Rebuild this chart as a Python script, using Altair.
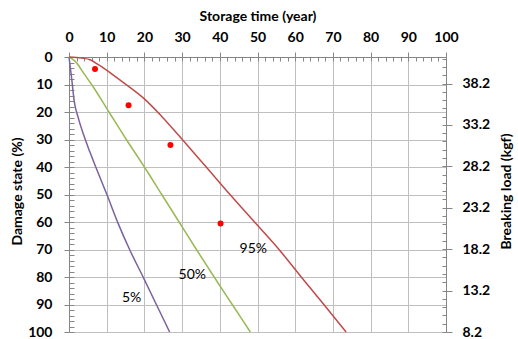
import altair as alt
import pandas as pd

# ---- data ----
years_5 = [0, 0.7, 1.4, 2.5, 3.9, 5.5, 7.1, 10.1, 13.0, 16.1, 19.8, 23.2, 26.7]
damage_5 = [0, 7.8, 16.2, 22.3, 28.4, 34.4, 40, 50.2, 60.4, 70.1, 80.4, 90.1, 100]

years_50 = [0, 1.6, 4.2, 6.0, 10.6, 15.2, 20.0, 24.6, 29.2, 33.8, 38.5, 43.3, 48.1]
damage_50 = [0, 1.5, 6.5, 10, 20, 30, 40, 50, 60, 70, 80, 90, 100]

years_95 = [0, 3.4, 5.6, 7.8, 11.3, 15.7, 20.2, 24.6, 30.0, 36.4, 42.7, 49.2, 55.7, 61.6, 67.6, 73.5]
damage_95 = [0, 0.4, 1.0, 2.8, 6.1, 10.6, 15.5, 21.6, 29.9, 40, 50, 60, 70, 80, 90, 100]

obs_years = [6.9, 15.8, 26.9, 40.2]
obs_damage = [4.4, 17.5, 32.0, 60.5]

label_text = ["5%", "50%", "95%"]
label_years = [16.6, 32.7, 48.9]
label_damage = [87.7, 79.3, 69.8]

series_names = ["5%", "50%", "95%"]
series_colors = ["#7D60A0", "#98B954", "#BE4B48"]

x_ticks = list(range(0, 101, 10))
x_minor = list(range(0, 101, 2))
y_ticks = list(range(0, 101, 10))
y_minor = list(range(0, 101, 2))
load_domain = [8.2, 41.4]
load_ticks = [8.2, 13.2, 18.2, 23.2, 28.2, 33.2, 38.2]
load_minor = [round(8.2 + i, 1) for i in range(34)]

# ---- tables ----
rows = []
for name, ys, ds in [("5%", years_5, damage_5), ("50%", years_50, damage_50), ("95%", years_95, damage_95)]:
    for i, (yv, dv) in enumerate(zip(ys, ds)):
        rows.append({"series": name, "year": yv, "damage": dv, "idx": i})
lines_df = pd.DataFrame(rows)
obs_df = pd.DataFrame({"year": obs_years, "damage": obs_damage})
lab_df = pd.DataFrame({"text": label_text, "year": label_years, "damage": label_damage})
load_df = pd.DataFrame({"load": load_domain})
dummy_df = pd.DataFrame({"year": [0, 100], "damage": [0, 100]})

FONT = "Lato"
AX = "#868686"
GRID = "#BFBFBF"

xs = alt.Scale(domain=[0, 100], nice=False, zero=False)
ys = alt.Scale(domain=[0, 100], reverse=True, nice=False, zero=False)
ls = alt.Scale(domain=load_domain, nice=False, zero=False)

common = dict(labelFont=FONT, labelFontWeight="bold", labelFontSize=14, labelColor="black",
              titleFont=FONT, titleFontWeight="bold", titleFontSize=14, titleColor="black",
              domainColor=AX, tickColor=AX, gridColor=GRID, gridWidth=1,
              labelFlush=False, labelOverlap=False)

lines = alt.Chart(lines_df).mark_line(strokeWidth=1.5, interpolate="monotone").encode(
    x=alt.X("year:Q", scale=xs, axis=alt.Axis(
        orient="top", title="Storage time (year)", values=x_ticks, grid=True,
        tickSize=5, labelPadding=8, titleY=-37, titleBaseline="alphabetic", **common)),
    y=alt.Y("damage:Q", scale=ys, axis=alt.Axis(
        orient="left", title="Damage state (%)", values=y_ticks, grid=True,
        tickSize=5, labelPadding=12, titleAngle=270, titleX=-52, titleY=134,
        titleBaseline="middle", titleAlign="center", **common)),
    color=alt.Color("series:N", scale=alt.Scale(domain=series_names, range=series_colors), legend=None),
    order="idx:Q",
)

points = alt.Chart(obs_df).mark_circle(size=36, color="#FF0000", opacity=1).encode(
    x=alt.X("year:Q", scale=xs, axis=None),
    y=alt.Y("damage:Q", scale=ys, axis=None),
)

labels = alt.Chart(lab_df).mark_text(font=FONT, fontSize=14, color="black").encode(
    x=alt.X("year:Q", scale=xs, axis=None),
    y=alt.Y("damage:Q", scale=ys, axis=None),
    text="text:N",
)

right_axis = alt.Chart(load_df).mark_point(opacity=0).encode(
    y=alt.Y("load:Q", scale=ls, axis=alt.Axis(
        orient="right", title="Breaking load (kgf)", values=load_ticks, grid=False, format=".1f",
        tickSize=6, labelPadding=10, titleAngle=270, titleX=60, titleY=134,
        titleBaseline="middle", titleAlign="center", **common)),
)

right_minor = alt.Chart(load_df).mark_point(opacity=0).encode(
    y=alt.Y("load:Q", scale=ls, axis=alt.Axis(
        orient="right", values=load_minor, labels=False, domain=False, grid=False,
        tickSize=4, offset=-4, title=None, tickColor=AX)),
)

top_minor = alt.Chart(dummy_df).mark_point(opacity=0).encode(
    x=alt.X("year:Q", scale=xs, axis=alt.Axis(
        orient="top", values=x_minor, labels=False, domain=False, grid=False,
        tickSize=4, offset=-4, title=None, tickColor=AX)),
)

left_minor = alt.Chart(dummy_df).mark_point(opacity=0).encode(
    y=alt.Y("damage:Q", scale=ys, axis=alt.Axis(
        orient="left", values=y_minor, labels=False, domain=False, grid=False,
        tickSize=5, offset=-5, title=None, tickColor=AX)),
)

chart = alt.layer(lines, points, labels, right_axis, right_minor, top_minor, left_minor).resolve_scale(
    x="independent", y="independent"
).properties(
    width=377, height=275,
    autosize=alt.AutoSizeParams(type="none"),
    padding={"left": 69, "top": 57, "right": 72, "bottom": 7},
).configure_view(stroke=None)

chart.save("out.html", embed_options={"renderer": "svg", "actions": False})
